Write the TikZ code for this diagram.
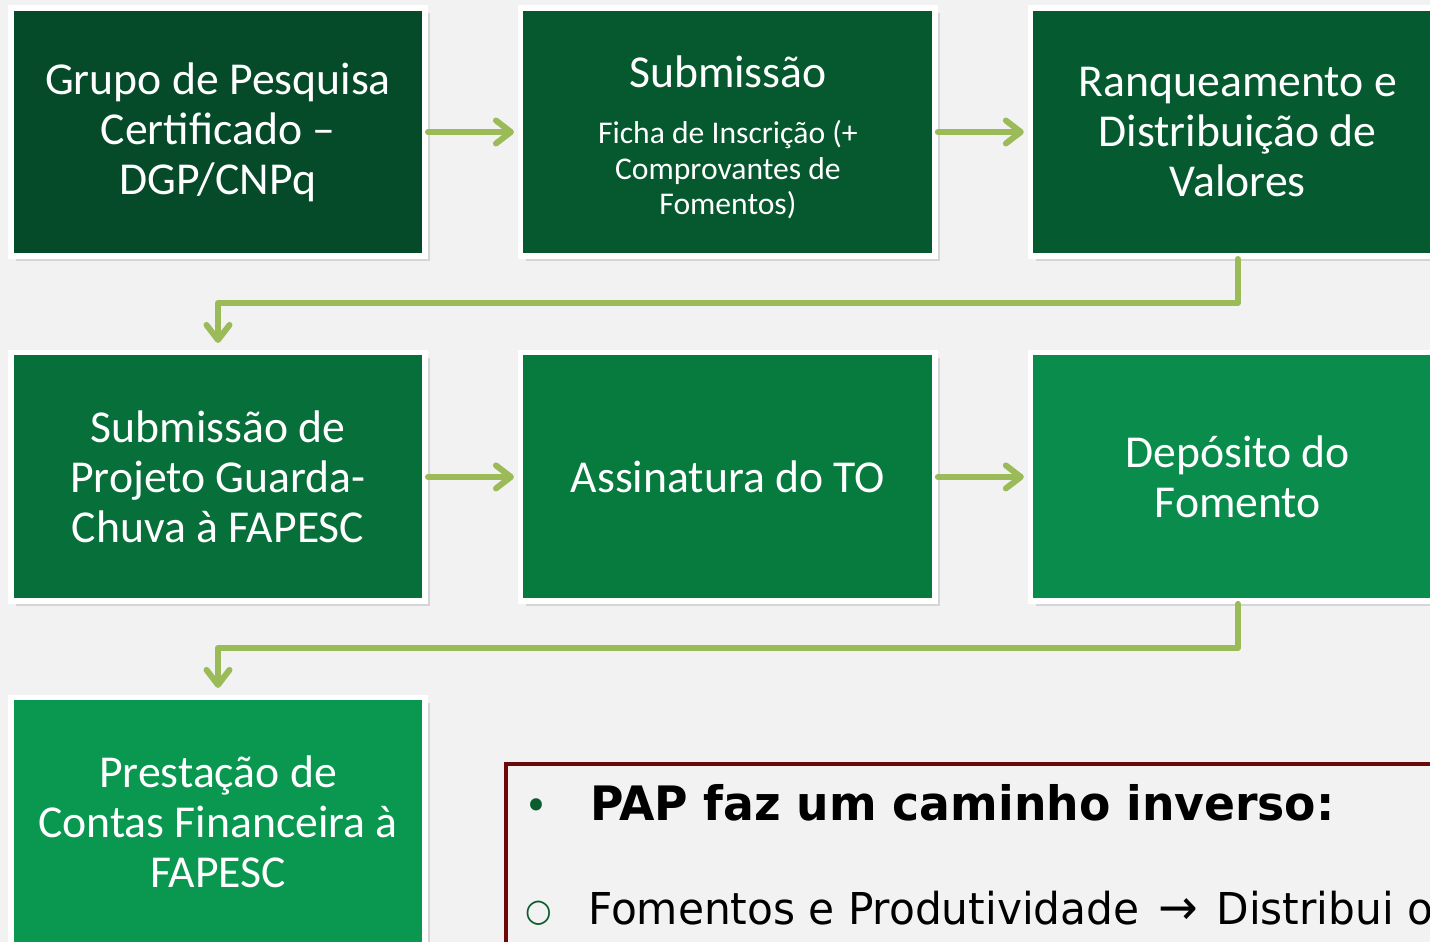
\documentclass[tikz,border=0pt]{standalone}
\usepackage{fontspec}
\setmainfont{Carlito}
\newfontfamily\papfonte[FakeStretch=1.07]{DejaVu Sans Condensed}
\usetikzlibrary{arrows.meta,positioning,shadows}

\definecolor{fundo}{RGB}{242,242,242}
\definecolor{verdeA}{RGB}{6,75,41}
\definecolor{verdeB}{RGB}{6,88,47}
\definecolor{verdeC}{RGB}{6,90,48}
\definecolor{verdeD}{RGB}{7,111,57}
\definecolor{verdeE}{RGB}{7,122,62}
\definecolor{verdeF}{RGB}{9,140,76}
\definecolor{verdeG}{RGB}{10,152,80}
\definecolor{setacor}{RGB}{155,187,89}
\definecolor{bordo}{RGB}{108,8,8}
\definecolor{marcador}{RGB}{11,93,48}
\newcommand{\miudo}{\fontsize{18}{20}\selectfont}

\begin{document}
\begin{tikzpicture}[x=0.02cm,y=-0.02cm,>={Straight Barb[round,length=0.3cm,width=0.46cm]},node distance=6.9cm and 10.2cm,on grid]
\tikzstyle{etapa} = [rectangle,draw=white,line width=0.11cm,inner sep=0pt,minimum width=8.29cm,minimum height=4.97cm,text=white,align=center,font=\fontsize{26}{28.5}\selectfont,drop shadow={shadow xshift=0.1cm,shadow yshift=-0.1cm,opacity=0.25}]
\tikzstyle{seta} = [->,draw=setacor,line width=0.12cm,line cap=round,line join=round]
\useasboundingbox (0,0) rectangle (1430,942);
\clip (0,0) rectangle (1430,942);
\fill[fundo] (0,0) rectangle (1430,942);

    \node[etapa,fill=verdeA] (grupo) at (218,132) {Grupo de Pesquisa\\Certificado –\\DGP/CNPq};
    \node[etapa,fill=verdeB] (submissao) [right=of grupo] {Submissão\\[3.8pt]\miudo Ficha de Inscrição (+\\[-8.4pt]\miudo Comprovantes de\\[-8.4pt]\miudo Fomentos)\\[-32pt]};
    \node[etapa,fill=verdeC] (ranque) [right=of submissao] {Ranqueamento e\\Distribuição de\\Valores};
    \node[etapa,fill=verdeD] (guarda) [below=of grupo] {Submissão de\\Projeto Guarda-\\Chuva à FAPESC};
    \node[etapa,fill=verdeE] (termo) [right=of guarda] {Assinatura do TO};
    \node[etapa,fill=verdeF] (deposito) [right=of termo] {Depósito do\\Fomento};
    \node[etapa,fill=verdeG] (contas) [below=of guarda] {Prestação de\\Contas Financeira à\\FAPESC};

    \draw[seta,shorten >=0.08cm] (grupo) -- (submissao);
    \draw[seta,shorten >=0.08cm] (submissao) -- (ranque);
    \draw[seta,shorten >=0.08cm] (guarda) -- (termo);
    \draw[seta,shorten >=0.08cm] (termo) -- (deposito);
    \draw[seta,shorten >=0.14cm] (ranque.south) -- ++(0,44) -| (guarda.north);
    \draw[seta,shorten >=0.14cm] (deposito.south) -- ++(0,44) -| (contas.north);

    % quadro do PAP
    \draw[bordo,line width=0.09cm] (506,764) rectangle (1480,1000);
    \node[anchor=base,text=marcador,font=\papfonte\fontsize{24}{24}\selectfont] (marca1) at (536,820) {•};
    \node[anchor=base west,inner sep=0pt,font=\papfonte\bfseries\fontsize{27}{27}\selectfont] (pap) at (590,820) {PAP faz um caminho inverso:};
    \node[anchor=base,text=marcador,font=\papfonte\fontsize{18}{18}\selectfont] (marca2) at (539,921) {○};
    \node[anchor=base west,inner sep=0pt,font=\papfonte\fontsize{25}{25}\selectfont] (fomentos) at (588,924) {Fomentos e Produtividade\hspace{3pt} {\fontsize{28}{28}\selectfont →}\hspace{3pt} Distribui o};
\end{tikzpicture}
\end{document}
